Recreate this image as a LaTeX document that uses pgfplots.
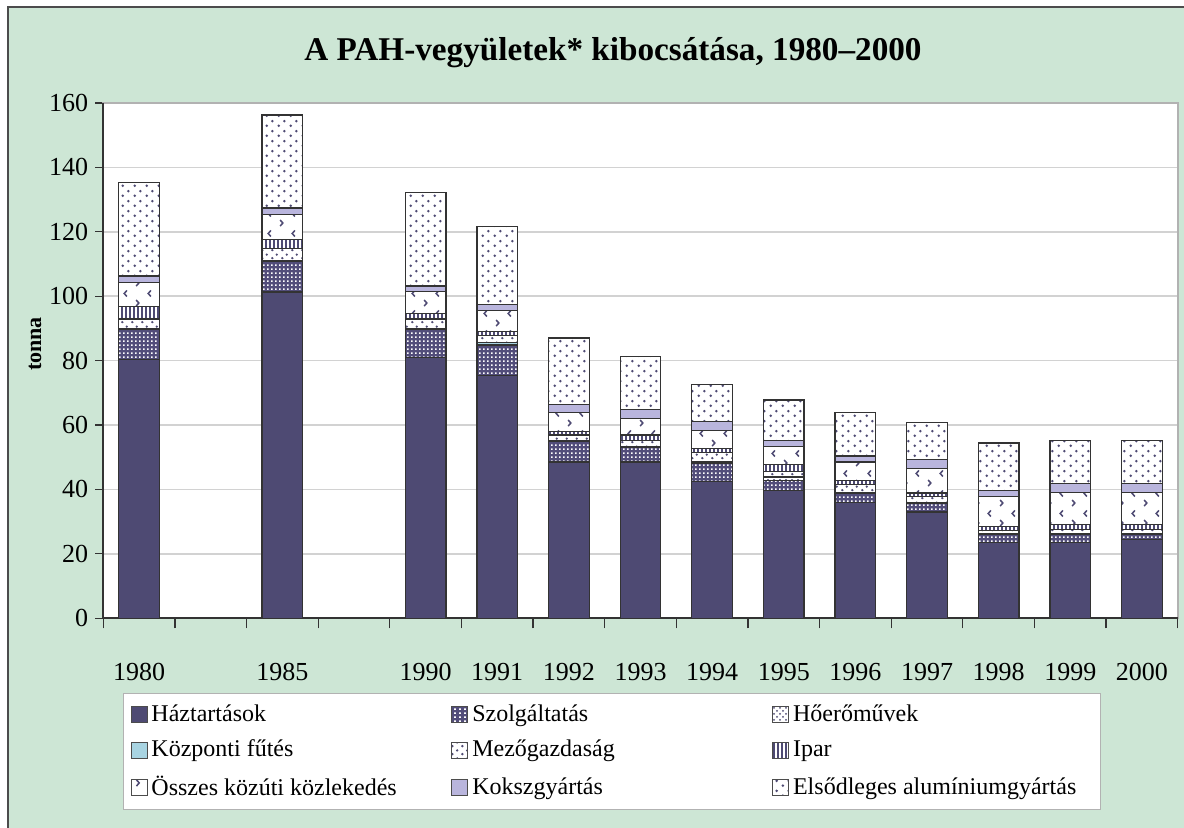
\documentclass[border=0pt]{standalone}
\usepackage{fontspec}
\setmainfont{Liberation Serif}
\usepackage{pgfplots}
\pgfplotsset{compat=1.18}
\usepackage{pgfplotstable}
\usetikzlibrary{patterns}

\definecolor{bg}{HTML}{CDE6D5}
\definecolor{dk}{HTML}{4E4A73}
\definecolor{sz}{HTML}{524D7A}
\definecolor{lav}{HTML}{B9B5DD}
\definecolor{lb}{HTML}{A8D4E2}

\pgfdeclarepatternformonly{wdots}{\pgfpointorigin}{\pgfpoint{2.2pt}{2.2pt}}{\pgfpoint{2.2pt}{2.2pt}}{%
  \pgfpathrectangle{\pgfpoint{0.6pt}{0.6pt}}{\pgfpoint{0.9pt}{0.9pt}}\pgfusepath{fill}}
\pgfdeclarepatternformonly{mdots}{\pgfpointorigin}{\pgfpoint{5pt}{4pt}}{\pgfpoint{5pt}{4pt}}{%
  \pgfpathcircle{\pgfpoint{1.25pt}{1pt}}{0.7pt}\pgfpathcircle{\pgfpoint{3.75pt}{3pt}}{0.7pt}\pgfusepath{fill}}
\pgfdeclarepatternformonly{vl}{\pgfpoint{0pt}{-0.1pt}}{\pgfpoint{2pt}{1pt}}{\pgfpoint{2pt}{1pt}}{%
  \pgfpathrectangle{\pgfpoint{0.3pt}{-0.1pt}}{\pgfpoint{1pt}{1.2pt}}\pgfusepath{fill}}
\pgfdeclarepatternformonly{chev}{\pgfpointorigin}{\pgfpoint{12pt}{10pt}}{\pgfpoint{12pt}{10pt}}{%
  \pgfsetlinewidth{0.8pt}%
  \pgfpathmoveto{\pgfpoint{3.6pt}{9.2pt}}\pgfpathlineto{\pgfpoint{2.2pt}{7.6pt}}\pgfpathlineto{\pgfpoint{3.6pt}{6.0pt}}%
  \pgfpathmoveto{\pgfpoint{8.4pt}{4.2pt}}\pgfpathlineto{\pgfpoint{9.8pt}{2.6pt}}\pgfpathlineto{\pgfpoint{8.4pt}{1.0pt}}%
  \pgfusepath{stroke}}
\pgfdeclarepatternformonly{edots}{\pgfpointorigin}{\pgfpoint{6pt}{5pt}}{\pgfpoint{6pt}{5pt}}{%
  \pgfpathcircle{\pgfpoint{1.5pt}{1.25pt}}{0.75pt}\pgfpathcircle{\pgfpoint{4.5pt}{3.75pt}}{0.75pt}\pgfusepath{fill}}

\pgfplotstableread{
x H Sz Ho Kf M I O K E
0 80.3 9.4 0.2 0.1 2.9 3.9 7.4 2.1 28.9
2 101.3 9.6 0.2 0.1 3.6 2.8 7.7 2.1 28.9
4 81.0 8.8 0.2 0.1 2.8 1.8 6.7 1.8 29.1
5 75.5 9.3 0.2 0.7 2.0 1.3 6.6 1.9 24.2
6 48.5 6.4 0.2 0.1 1.7 1.1 6.0 2.5 20.5
7 48.5 4.6 0.2 0.1 1.8 1.7 5.2 2.7 16.5
8 42.5 5.7 0.2 0.1 2.9 1.2 5.7 2.8 11.6
9 39.7 3.1 0.8 0.3 1.8 2.0 5.6 1.9 12.6
10 35.9 2.8 0.2 0.1 2.6 1.2 5.7 1.9 13.6
11 33.0 2.6 0.2 0.1 2.0 1.0 7.7 2.6 11.7
12 23.5 2.5 0.2 0.1 1.0 1.1 9.5 1.8 14.7
13 23.5 2.5 0.2 0.1 1.3 1.5 9.9 2.8 13.4
14 24.5 1.5 0.2 0.1 1.3 1.5 9.9 2.8 13.4
}\data

\begin{document}
\begin{tikzpicture}
\path[use as bounding box] (0pt,0pt) rectangle (592pt,414pt);
\fill[bg] (4pt,0pt) rectangle (592pt,410.5pt);
\draw[black!70, line width=1pt] (4pt,0pt) -- (4pt,410.5pt) -- (592pt,410.5pt);
\node[font=\bfseries\fontsize{16.6}{19}\selectfont] at (306.5pt,387.5pt) {A PAH-vegyületek* kibocsátása, 1980–2000};
\node[rotate=90, font=\bfseries\fontsize{11}{13}\selectfont] at (17.5pt,242pt) {tonna};
\begin{axis}[
  at={(51.65pt,104.85pt)}, anchor=south west,
  scale only axis, width=537.2pt, height=257.65pt,
  ybar stacked, bar width=20.3pt,
  xmin=-0.5, xmax=14.5, ymin=0, ymax=160,
  ytick={0,20,...,160},
  xtick={0,2,4,5,6,7,8,9,10,11,12,13,14},
  xticklabels={1980,1985,1990,1991,1992,1993,1994,1995,1996,1997,1998,1999,2000},
  minor xtick={-0.5,0.5,...,14.5},
  major x tick style={draw=none},
  minor x tick style={draw=black!80, line width=0.6pt},
  y tick style={draw=black!80, line width=0.6pt},
  tick align=outside, major tick length=4pt, minor tick length=5pt,
  xtick pos=bottom, ytick pos=left,
  /pgf/number format/assume math mode=true,
  ticklabel style={font=\fontsize{13}{15}\selectfont},
  xticklabel style={yshift=-15pt},
  ymajorgrids, grid style={gray!35, line width=0.8pt},
  axis line style={draw=gray!60, line width=1.2pt},
  axis background/.style={fill=white},
  clip=false,
  every axis plot/.append style={draw=black!80, line width=0.6pt},
  legend columns=3,
  legend cell align=left,
  legend style={at={(0.0186,-0.145)}, anchor=north west, draw=gray!60, fill=white,
    font=\fontsize{12}{14}\selectfont, row sep=4pt, inner sep=3.5pt},
  legend image code/.code={\draw[#1, line width=0.4pt, draw=black!70] (0pt,-4pt) rectangle (8pt,4pt);},
]
\addplot[fill=dk] table[x=x,y=H]{\data};
\addlegendentry{\makebox[148pt][l]{Háztartások}}
\addplot[fill=sz, postaction={pattern=wdots, pattern color=white}] table[x=x,y=Sz]{\data};
\addlegendentry{\makebox[148pt][l]{Szolgáltatás}}
\addplot[fill=white, postaction={pattern=crosshatch dots, pattern color=dk}] table[x=x,y=Ho]{\data};
\addlegendentry{\makebox[148pt][l]{Hőerőművek}}
\addplot[fill=lb] table[x=x,y=Kf]{\data};
\addlegendentry{\makebox[148pt][l]{Központi fűtés}}
\addplot[fill=white, postaction={pattern=mdots, pattern color=dk}] table[x=x,y=M]{\data};
\addlegendentry{\makebox[148pt][l]{Mezőgazdaság}}
\addplot[fill=white, postaction={pattern=vl, pattern color=dk}] table[x=x,y=I]{\data};
\addlegendentry{\makebox[148pt][l]{Ipar}}
\addplot[fill=white, postaction={pattern=chev, pattern color=dk}] table[x=x,y=O]{\data};
\addlegendentry{\makebox[148pt][l]{Összes közúti közlekedés}}
\addplot[fill=lav] table[x=x,y=K]{\data};
\addlegendentry{\makebox[148pt][l]{Kokszgyártás}}
\addplot[fill=white, postaction={pattern=edots, pattern color=dk}] table[x=x,y=E]{\data};
\addlegendentry{\makebox[148pt][l]{Elsődleges alumíniumgyártás}}
\draw[black!80, line width=0.8pt] (rel axis cs:0,1) -- (rel axis cs:0,0) -- (rel axis cs:1,0);
\end{axis}
\end{tikzpicture}
\end{document}
